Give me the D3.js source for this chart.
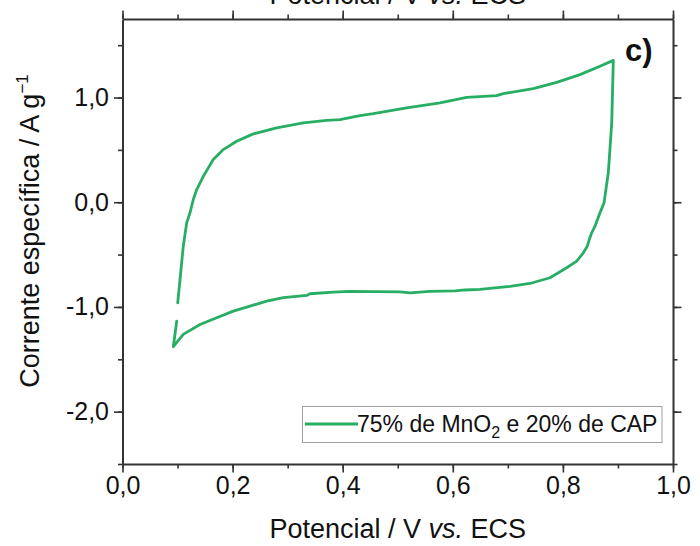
<!DOCTYPE html>
<html><head><meta charset="utf-8">
<script src="https://cdn.jsdelivr.net/npm/d3@7"></script>
<style>
body{margin:0;background:#fff;}
svg text{font-family:"Liberation Sans",Arial,sans-serif;fill:#111;}
</style></head>
<body><svg id="c" width="700" height="546"></svg>
<script>
// Data: potential (V vs. ECS) and specific current (A/g)
const potential = [0.1003,0.1045,0.1104,0.1166,0.1226,0.1286,0.1348,0.1468,0.1559,0.1649,0.1831,0.2074,0.2376,0.2801,0.3284,0.3709,0.3951,0.4314,0.4556,0.5163,0.5768,0.6252,0.6797,0.6917,0.7462,0.7887,0.8311,0.8674,0.8916,
  0.8887,0.8825,0.8747,0.8674,0.8583,0.8523,0.8480,0.8443,0.8371,0.8251,0.8069,0.7766,
  0.7402,0.7039,0.6494,0.6222,0.6040,0.5586,0.5223,0.5041,0.4133,0.3829,0.3406,0.3346,0.2921,0.2619,0.2316,0.2013,0.1711,0.1408,0.1104,0.0923,0.0985];
const current = [-0.960,-0.738,-0.420,-0.197,-0.101,0.026,0.121,0.248,0.328,0.408,0.503,0.582,0.653,0.710,0.758,0.782,0.789,0.827,0.846,0.901,0.948,1.002,1.018,1.037,1.085,1.145,1.219,1.298,1.355,
  0.758,0.281,-0.006,-0.101,-0.229,-0.292,-0.356,-0.420,-0.483,-0.563,-0.626,-0.721,
  -0.776,-0.804,-0.833,-0.838,-0.847,-0.852,-0.866,-0.857,-0.852,-0.859,-0.874,-0.890,-0.912,-0.945,-0.992,-1.040,-1.103,-1.167,-1.262,-1.380,-1.135];
const xTicks = [0,0.2,0.4,0.6,0.8,1.0];
const xTickLabels = ["0,0","0,2","0,4","0,6","0,8","1,0"];
const yTicks = [-2,-1,0,1];
const yTickLabels = ["-2,0","-1,0","0,0","1,0"];
const seriesName = "75% de MnO";

const svg = d3.select("#c");
const L=122.5, R=673, T=19, B=464;
const x = d3.scaleLinear().domain([0,1]).range([L,R]);
const y = d3.scaleLinear().domain([-2.5,1.75]).range([B,T]);
const green = "#28ad64", axisCol="#333";

// data line
const pts = potential.map((p,i)=>[p,current[i]]);
const line = d3.line().x(d=>x(d[0])).y(d=>y(d[1]));
svg.append("path").attr("d",line(pts)).attr("fill","none").attr("stroke",green)
  .attr("stroke-width",2.8).attr("stroke-linejoin","round").attr("stroke-linecap","round");

function styleAxis(g){
  g.selectAll(".domain").attr("stroke",axisCol).attr("stroke-width",2);
  g.selectAll(".tick line").attr("stroke",axisCol).attr("stroke-width",1.6);
  g.selectAll("text").attr("font-size",25).attr("fill","#111").attr("font-family","'Liberation Sans',Arial,sans-serif");
}
const xMinor = d3.range(0,1.0001,0.1);
const yMinor = d3.range(-2.5,1.76,0.5);
function minor(axisGen, vals, tr){
  const g=svg.append("g").attr("transform",tr).call(axisGen.tickValues(vals).tickSize(4.5).tickFormat(""));
  g.select(".domain").remove();
  g.selectAll(".tick line").attr("stroke",axisCol).attr("stroke-width",1.6);
}
minor(d3.axisBottom(x),xMinor,`translate(0,${B})`);
minor(d3.axisTop(x),xMinor,`translate(0,${T})`);
minor(d3.axisLeft(y),yMinor,`translate(${L},0)`);
minor(d3.axisRight(y),yMinor,`translate(${R},0)`);

const gxb = svg.append("g").attr("transform",`translate(0,${B})`)
  .call(d3.axisBottom(x).tickValues(xTicks).tickSize(8.5).tickSizeOuter(0).tickPadding(4).tickFormat((d,i)=>xTickLabels[i]));
styleAxis(gxb);
const gxt = svg.append("g").attr("transform",`translate(0,${T})`)
  .call(d3.axisTop(x).tickValues(xTicks).tickSize(8.5).tickSizeOuter(0).tickFormat(""));
styleAxis(gxt);
const gyl = svg.append("g").attr("transform",`translate(${L},0)`)
  .call(d3.axisLeft(y).tickValues(yTicks).tickSize(8.5).tickSizeOuter(0).tickPadding(5).tickFormat((d,i)=>yTickLabels[i]));
styleAxis(gyl);
const gyr = svg.append("g").attr("transform",`translate(${R},0)`)
  .call(d3.axisRight(y).tickValues(yTicks).tickSize(8.5).tickSizeOuter(0).tickFormat(""));
styleAxis(gyr);

// axis titles
function xTitle(yPos){
  const t = svg.append("text").attr("x",(L+R)/2).attr("y",yPos).attr("text-anchor","middle").attr("font-size",27);
  t.append("tspan").text("Potencial / V ");
  t.append("tspan").attr("font-style","italic").text("vs.");
  t.append("tspan").text(" ECS");
}
xTitle(538);
xTitle(4); // top title, cut off by the page edge as in the reference

const yt = svg.append("text").attr("transform","translate(39,231) rotate(-90)").attr("text-anchor","middle").attr("font-size",27);
yt.append("tspan").text("Corrente específica / A g");
yt.append("tspan").attr("dy",-11).attr("font-size",17).text("−1");

// panel label
svg.append("text").attr("x",625).attr("y",61).attr("font-size",31).attr("font-weight","bold").text("c)");

// legend
svg.append("rect").attr("x",302.5).attr("y",406.5).attr("width",359.5).attr("height",36)
  .attr("fill","#fff").attr("stroke","#a0a0a0").attr("stroke-width",1);
svg.append("line").attr("x1",305).attr("x2",358).attr("y1",424).attr("y2",424).attr("stroke",green).attr("stroke-width",2.8);
const lt = svg.append("text").attr("x",357).attr("y",432).attr("font-size",23);
lt.append("tspan").text(seriesName);
lt.append("tspan").attr("dy",6).attr("font-size",16).text("2");
lt.append("tspan").attr("dy",-6).text(" e 20% de CAP");
</script></body></html>
